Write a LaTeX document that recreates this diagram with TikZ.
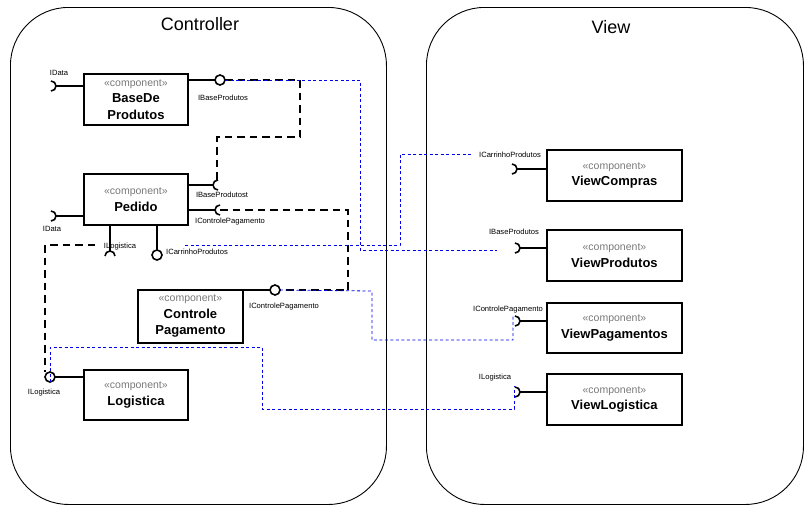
\documentclass[tikz,border=0pt]{standalone}
\usepackage{fontspec}
\setmainfont{Liberation Sans}
\definecolor{cgray}{RGB}{120,120,120}
\definecolor{cblue}{RGB}{0,0,235}
\newcommand\cstereo{{\fontsize{10.5}{12}\selectfont\mdseries\color{cgray}«component»}}
\begin{document}
\begin{tikzpicture}[x=1pt,y=-1pt,
  container/.style={draw, line width=0.9pt, rounded corners=58pt, anchor=north west, inner sep=0pt},
  comp/.style={draw, line width=1.9pt, anchor=north west, inner sep=0pt, align=center,
    font=\fontsize{13}{16.5}\selectfont\bfseries},
  iface/.style={line width=1.6pt},
  lbl/.style={font=\fontsize{7.6}{8}\selectfont, inner sep=0pt},
  title/.style={font=\fontsize{18}{20}\selectfont, inner sep=0pt},
  req/.style={draw, line width=2.2pt, dash pattern=on 7.5pt off 5pt},
  dep/.style={draw=cblue, line width=0.8pt, dash pattern=on 3pt off 2.5pt}]
\useasboundingbox (0,0) rectangle (811,512);

% containers
\node[container, minimum width=376pt, minimum height=497pt] (ctrl) at (10,7) {};
\node[container, minimum width=377pt, minimum height=497pt] (view) at (426,7) {};
\node[title] (tctrl) at (200,24) {Controller};
\node[title] (tview) at (611,27) {View};

% components
\node[comp, minimum width=104pt, minimum height=51pt] (base) at (83,73) {\cstereo\\BaseDe\\Produtos};
\node[comp, minimum width=104pt, minimum height=51pt] (pedido) at (83,173) {\cstereo\\Pedido};
\node[comp, minimum width=105pt, minimum height=53pt] (cp) at (137,289) {\cstereo\\Controle\\Pagamento};
\node[comp, minimum width=104pt, minimum height=50pt] (logi) at (83,369) {\cstereo\\Logistica};
\node[comp, minimum width=135pt, minimum height=51pt] (vc) at (546,149) {\cstereo\\ViewCompras};
\node[comp, minimum width=135pt, minimum height=51pt] (vp) at (546,229) {\cstereo\\ViewProdutos};
\node[comp, minimum width=135pt, minimum height=50pt] (vpag) at (546,302) {\cstereo\\ViewPagamentos};
\node[comp, minimum width=135pt, minimum height=51pt] (vl) at (546,373) {\cstereo\\ViewLogistica};

% interface points
\coordinate (bData) at (56,86);
\coordinate (bProv) at (220,80);
\coordinate (pData) at (56,216);
\coordinate (pBase) at (213,185);
\coordinate (pCtrl) at (215,210);
\coordinate (pLog) at (110,251);
\coordinate (pCar) at (157,255);
\coordinate (cpProv) at (275,290);
\coordinate (cpStart) at (222,290);
\coordinate (lProv) at (50,377);
\coordinate (vcReq) at (517,169);
\coordinate (vpReq) at (520,248);
\coordinate (vpagReq) at (520,321);
\coordinate (vlReq) at (520,392);

% BaseDe interfaces
\draw[iface] (base.west |- bData) -- (bData);
\draw[iface] (bData) ++(-5,-5) arc[start angle=90, end angle=-90, radius=5pt];
\draw[iface] (base.east |- bProv) -- ([xshift=-5pt]bProv);
\draw[iface] (bProv) circle[radius=5pt];

% Pedido interfaces
\draw[iface] (pedido.west |- pData) -- (pData);
\draw[iface] (pData) ++(-5,-5) arc[start angle=90, end angle=-90, radius=5pt];
\draw[iface] (pedido.east |- pBase) -- (pBase);
\draw[iface] (pBase) ++(5,-5) arc[start angle=90, end angle=270, radius=5pt];
\draw[iface] (pedido.east |- pCtrl) -- (pCtrl);
\draw[iface] (pCtrl) ++(5,-5) arc[start angle=90, end angle=270, radius=5pt];
\draw[iface] (pedido.south -| pLog) -- (pLog);
\draw[iface] (pLog) ++(5,5) arc[start angle=0, end angle=180, radius=5pt];
\draw[iface] (pedido.south -| pCar) -- ([yshift=5pt]pCar);
\draw[iface] (pCar) circle[radius=5pt];

% ControlePagamento interface
\draw[iface] (cpStart) -- ([xshift=-5pt]cpProv);
\draw[iface] (cpProv) circle[radius=5pt];

% Logistica interface
\draw[iface] (logi.west |- lProv) -- ([xshift=5pt]lProv);
\draw[iface] (lProv) circle[radius=5pt];

% View sockets
\foreach \c/\n in {vcReq/vc, vpReq/vp, vpagReq/vpag, vlReq/vl}{
  \draw[iface] (\n.west |- \c) -- (\c);
  \draw[iface] (\c) ++(-5,-5) arc[start angle=90, end angle=-90, radius=5pt];
}

% labels
\node[lbl] (l1) at (59,73) {IData};
\node[lbl] (l2) at (223,98) {IBaseProdutos};
\node[lbl] (l3) at (52,229) {IData};
\node[lbl] (l4) at (222,195) {IBaseProdutost};
\node[lbl] (l5) at (230,222) {IControlePagamento};
\node[lbl] (l6) at (120,247) {ILogistica};
\node[lbl] (l7) at (197,252) {ICarrinhoProdutos};
\node[lbl] (l8) at (284,307) {IControlePagamento};
\node[lbl] (l9) at (44,393) {ILogistica};
\node[lbl] (l10) at (510,155) {ICarrinhoProdutos};
\node[lbl] (l11) at (514,232) {IBaseProdutos};
\node[lbl] (l12) at (508,310) {IControlePagamento};
\node[lbl] (l13) at (495,378) {ILogistica};

% thick dashed assembly connectors
\coordinate (a1) at (300,80);
\coordinate (a2) at (300,137);
\coordinate (a3) at (217,137);
\coordinate (a4) at (217,180);
\draw[req] ([xshift=5pt]bProv) -- (a1) -- (a2) -- (a3) -- (a4);
\coordinate (b1) at (348,210);
\coordinate (b2) at (348,290);
\coordinate (b3) at (280,290);
\draw[req] ([xshift=5pt]pCtrl) -- (b1) -- (b2) -- (b3);
\coordinate (c0) at (95,245);
\coordinate (c1) at (45,245);
\coordinate (c2) at (45,372);
\draw[req] (c0) -- (c1) -- (c2);

% thin blue dependency lines
\coordinate (d1) at (360,80);
\coordinate (d2) at (360,250);
\coordinate (d3) at (497,250);
\draw[dep] ([xshift=5pt]bProv) -- (d1) -- (d2) -- (d3);
\coordinate (e0) at (185,245);
\coordinate (e1) at (400,245);
\coordinate (e2) at (400,154);
\coordinate (e3) at (472,154);
\draw[dep] (e0) -- (e1) -- (e2) -- (e3);
\coordinate (f1) at (372,291);
\coordinate (f2) at (372,340);
\coordinate (f3) at (513,340);
\coordinate (f4) at (513,316);
\draw[dep] ([xshift=5pt]cpProv) -- (f1) -- (f2) -- (f3) -- (f4);
\coordinate (g1) at (50,347);
\coordinate (g2) at (262,347);
\coordinate (g3) at (262,409);
\coordinate (g4) at (514,409);
\coordinate (g5) at (514,386);
\draw[dep] ([yshift=-5pt]lProv) -- (g1) -- (g2) -- (g3) -- (g4) -- (g5);
\end{tikzpicture}
\end{document}
